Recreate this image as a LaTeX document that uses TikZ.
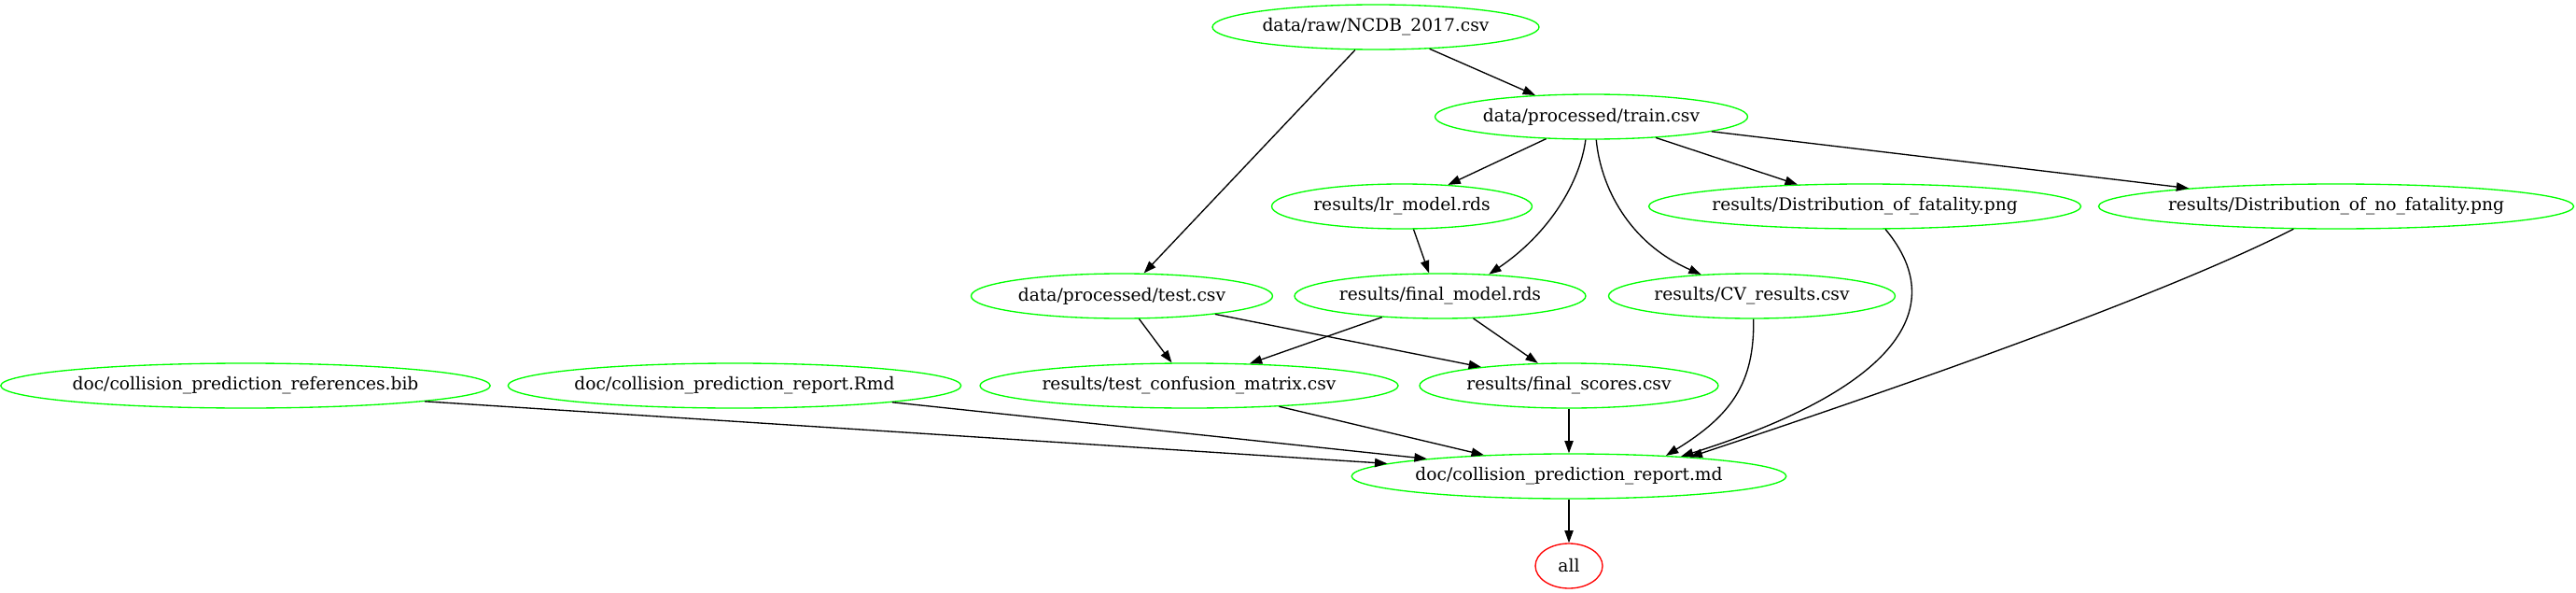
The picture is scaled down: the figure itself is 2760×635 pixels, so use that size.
\documentclass[tikz,border=0pt]{standalone}
\usepackage{fontspec}
\setmainfont{DejaVu Serif}
\usetikzlibrary{shapes.geometric,arrows.meta}
\begin{document}
\begin{tikzpicture}[x=0.75pt,y=-0.75pt,
  gnode/.style={ellipse, draw=green, line width=1pt, inner sep=0pt,
    minimum height=36pt, font=\fontsize{14}{16}\selectfont},
  rnode/.style={gnode, draw=red},
  edge/.style={draw=black, line width=1pt, -{Triangle[length=10pt,width=7pt]}}]
\fill[white] (0,0) rectangle (2760,635);
\useasboundingbox (0,0) rectangle (2760,635);
% nodes
\node[gnode, minimum width=262.5pt] (ncdb) at (1474,29) {data/raw/NCDB\_2017.csv};
\node[gnode, minimum width=251.25pt] (train) at (1705,125) {data/processed/train.csv};
\node[gnode, minimum width=209.25pt] (lr) at (1502,221) {results/lr\_model.rds};
\node[gnode, minimum width=345.75pt] (fat) at (1998,221) {results/Distribution\_of\_fatality.png};
\node[gnode, minimum width=377.25pt] (nofat) at (2503,221) {results/Distribution\_of\_no\_fatality.png};
\node[gnode, minimum width=242.25pt] (test) at (1202,317) {data/processed/test.csv};
\node[gnode, minimum width=234pt] (final) at (1543,317) {results/final\_model.rds};
\node[gnode, minimum width=230.25pt] (cv) at (1877,317) {results/CV\_results.csv};
\node[gnode, minimum width=388.5pt] (bib) at (263,413) {doc/collision\_prediction\_references.bib};
\node[gnode, minimum width=360pt] (rmd) at (787,413) {doc/collision\_prediction\_report.Rmd};
\node[gnode, minimum width=336pt] (conf) at (1274,413) {results/test\_confusion\_matrix.csv};
\node[gnode, minimum width=240pt] (scores) at (1681,413) {results/final\_scores.csv};
\node[gnode, minimum width=345pt] (md) at (1681,510) {doc/collision\_prediction\_report.md};
\node[rnode, minimum width=54pt] (all) at (1681,606) {all};
% edges
\draw[edge] (ncdb.-22.9) -- (train.159.1);
\draw[edge] (ncdb.-132.7) -- (test.46);
\draw[edge] (train.-154.4) -- (lr.25.1);
\draw[edge] (train.-104) .. controls (1693,195) and (1660,250) .. (final.24.4);
\draw[edge] (train.-78) .. controls (1715,200) and (1745,260) .. (cv.157.4);
\draw[edge] (train.-18.5) -- (fat.162.9);
\draw[edge] (train.-7.1) -- (nofat.173.1);
\draw[edge] (lr.-63.3) -- (final.116.7);
\draw[edge] (test.-53.6) -- (conf.127);
\draw[edge] (test.-11.7) -- (scores.168.3);
\draw[edge] (final.-160.2) -- (conf.20.2);
\draw[edge] (final.-34.9) -- (scores.144.9);
\draw[edge] (bib.-5.3) -- (md.176.5);
\draw[edge] (rmd.-6.5) -- (md.173.7);
\draw[edge] (conf.-13.7) -- (md.166.4);
\draw[edge] (scores.south) -- (md.north);
\draw[edge] (cv.-86) .. controls (1880,410) and (1855,445) .. (md.12.2);
\draw[edge] (fat.-48.7) .. controls (2095,335) and (2020,420) .. (md.10.1);
\draw[edge] (nofat.-152.8) .. controls (2330,310) and (2080,400) .. (md.9);
\draw[edge] (md.south) -- (all.north);
\end{tikzpicture}
\end{document}
